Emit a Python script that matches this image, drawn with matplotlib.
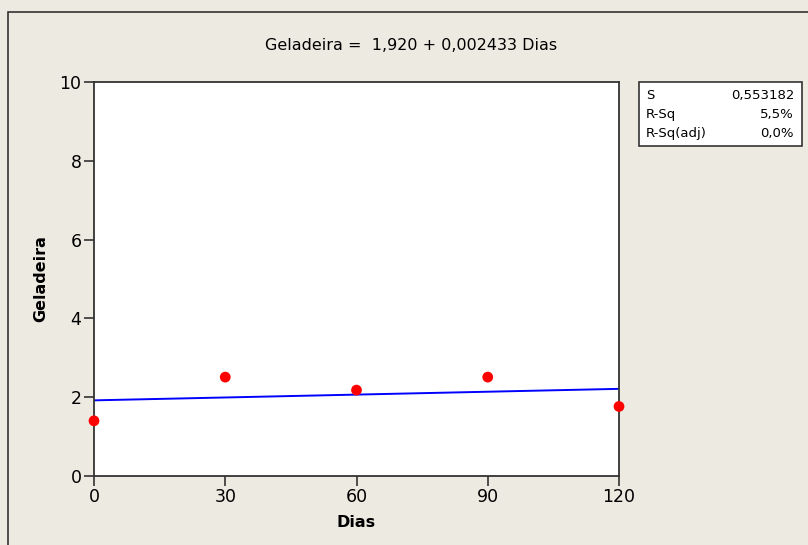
import matplotlib
matplotlib.use("Agg")
import matplotlib.pyplot as plt
from matplotlib.patches import Rectangle
import numpy as np

# Observed data
dias = [0, 30, 60, 90, 120]
geladeira = [1.40, 2.51, 2.18, 2.51, 1.765]

# Fitted regression
intercept = 1.920
slope = 0.002433
stat_names = ["S", "R-Sq", "R-Sq(adj)"]
stat_values = ["0,553182", "5,5%", "0,0%"]

x_ticks = [0, 30, 60, 90, 120]
y_ticks = [0, 2, 4, 6, 8, 10]

bg = "#EDEAE1"
W, H = 808, 545
fig = plt.figure(figsize=(W / 100, H / 100), dpi=100, facecolor=bg)
plt.rcParams["font.family"] = ["DejaVu Sans"]

# outer frame (runs off the right and bottom edges)
fig.patches.append(Rectangle((8 / W, -0.1), 1.2, 1.1 - 12 / H, transform=fig.transFigure,
                             fill=False, edgecolor="#333333", linewidth=1.2))

ax = fig.add_axes([94 / W, (H - 476) / H, (619 - 94) / W, (476 - 82) / H])
ax.set_facecolor("white")

xf = np.array([min(dias), max(dias)])
ax.plot(xf, intercept + slope * xf, color="#0000FF", linewidth=1.4, zorder=2)
ax.scatter(dias, geladeira, s=60, color="#FF0000", zorder=3, clip_on=False,
           edgecolors="none")

ax.set_xlim(0, 120)
ax.set_ylim(0, 10)
ax.set_xticks(x_ticks)
ax.set_yticks(y_ticks)
ax.tick_params(direction="out", length=7, width=1.2, color="#333333",
               labelsize=12.5, pad=2)
for s in ax.spines.values():
    s.set_color("#333333")
    s.set_linewidth(1.3)

ax.set_xlabel("Dias", fontsize=11.5, fontweight="bold", labelpad=6)
ax.set_ylabel("Geladeira", fontsize=11.5, fontweight="bold", labelpad=8)

fig.text(411 / W, 1 - 45 / H, "Geladeira =  1,920 + 0,002433 Dias",
         ha="center", va="center", fontsize=11.5)

# statistics box
fig.patches.append(Rectangle((639 / W, 1 - 146 / H), (802 - 639) / W, (146 - 82) / H,
                             transform=fig.transFigure, facecolor="white",
                             edgecolor="#333333", linewidth=1.2))
for i, (n, v) in enumerate(zip(stat_names, stat_values)):
    y = 1 - (95 + i * 19.5) / H
    fig.text(646 / W, y, n, ha="left", va="center", fontsize=9.5)
    fig.text(794 / W, y, v, ha="right", va="center", fontsize=9.5)

fig.savefig("out.png", dpi=100, facecolor=bg)
